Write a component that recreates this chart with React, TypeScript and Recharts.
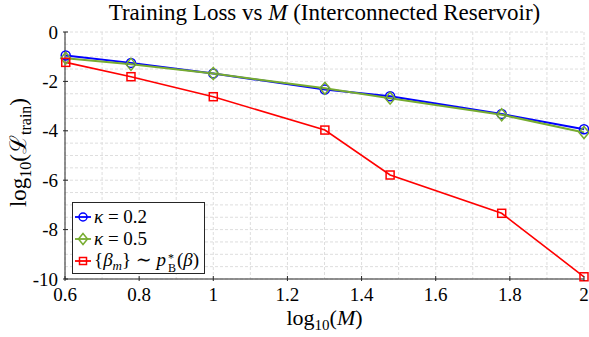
import React from "react";
import {
  LineChart, Line, XAxis, YAxis, CartesianGrid, Legend,
} from "recharts";

const logM = [0.602, 0.778, 1, 1.301, 1.477, 1.778, 2];
const kappa02 = [-0.95, -1.25, -1.68, -2.33, -2.6, -3.32, -3.94];
const kappa05 = [-1.06, -1.31, -1.68, -2.28, -2.68, -3.35, -4.07];
const betaPrior = [-1.23, -1.81, -2.62, -3.97, -5.79, -7.34, -9.91];

const xTicks = [0.6, 0.8, 1, 1.2, 1.4, 1.6, 1.8, 2];
const yTicks = [-10, -8, -6, -4, -2, 0];
const xGrid = [0.6, 0.7, 0.8, 0.9, 1, 1.1, 1.2, 1.3, 1.4, 1.5, 1.6, 1.7, 1.8, 1.9, 2];
const yGrid = [-10, -9.5, -9, -8.5, -8, -7.5, -7, -6.5, -6, -5.5, -5, -4.5, -4, -3.5, -3, -2.5, -2, -1.5, -1, -0.5, 0];
const seriesOrder = ["k02", "k05", "beta"];

const data = logM.map((x, i) => ({
  x,
  k02: kappa02[i],
  k05: kappa05[i],
  beta: betaPrior[i],
}));

const FONT = "'Liberation Serif', 'DejaVu Serif', serif";
const AXIS = "#262626";
const BLUE = "#0000ff";
const GREEN = "#77ac30";
const RED = "#ff0000";

const circleDot = (p: any) => (
  <circle key={`c${p.index}`} cx={p.cx} cy={p.cy} r={4.5} fill="none" stroke={BLUE} strokeWidth={1.5} />
);
const diamondDot = (p: any) => (
  <polygon
    key={`d${p.index}`}
    points={`${p.cx},${p.cy - 6} ${p.cx + 5},${p.cy} ${p.cx},${p.cy + 6} ${p.cx - 5},${p.cy}`}
    fill="none" stroke={GREEN} strokeWidth={1.5}
  />
);
const squareDot = (p: any) => (
  <rect key={`s${p.index}`} x={p.cx - 4} y={p.cy - 4} width={8} height={8} fill="none" stroke={RED} strokeWidth={1.5} />
);

const BottomTick = (p: any) => (
  <g>
    <line x1={p.x} x2={p.x} y1={p.y} y2={p.y - 5} stroke={AXIS} />
    <text x={p.x} y={p.y + 20} textAnchor="middle" fontFamily={FONT} fontSize={19} fill="#000">
      {p.payload.value}
    </text>
  </g>
);
const LeftTick = (p: any) => (
  <g>
    <line x1={p.x} x2={p.x + 5} y1={p.y} y2={p.y} stroke={AXIS} />
    <text x={p.x - 5} y={p.y + 6.5} textAnchor="end" fontFamily={FONT} fontSize={19} fill="#000">
      {p.payload.value}
    </text>
  </g>
);
const TopTick = (p: any) => <line x1={p.x} x2={p.x} y1={p.y} y2={p.y + 5} stroke={AXIS} />;
const RightTick = (p: any) => <line x1={p.x} x2={p.x - 5} y1={p.y} y2={p.y} stroke={AXIS} />;

const labels: Record<string, React.ReactNode> = {
  k02: <span><i>κ</i> = 0.2</span>,
  k05: <span><i>κ</i> = 0.5</span>,
  beta: (
    <span>
      {"{"}<i>β</i><i style={{ fontSize: 13, position: "relative", top: 4 }}>m</i>{"}"} ∼ <i>p</i>
      <span style={{ display: "inline-block", verticalAlign: "-6px", fontSize: 12, lineHeight: "10px", width: 9, marginLeft: 2 }}>
        <div style={{ height: 10 }}>*</div>
        <div style={{ height: 10 }}>B</div>
      </span>
      (<i>β</i>)
    </span>
  ),
};

const markerFor = (key: string, color: string) => {
  if (key === "k02") return <circle cx={8} cy={9} r={4} fill="none" stroke={color} strokeWidth={1.5} />;
  if (key === "k05") return <polygon points="8,3.5 12.5,9 8,14.5 3.5,9" fill="none" stroke={color} strokeWidth={1.5} />;
  return <rect x={4.5} y={5.5} width={7} height={7} fill="none" stroke={color} strokeWidth={1.5} />;
};

const LegendBox = (props: any) => (
  <div style={{ width: 129, border: "1px solid #262626", background: "#fff", padding: "3px 0 1px 2px", fontFamily: FONT, fontSize: 19, color: "#000" }}>
    {props.payload.map((e: any) => (
      <div key={e.dataKey} style={{ display: "flex", alignItems: "center", height: 22, whiteSpace: "nowrap", lineHeight: "22px" }}>
        <svg width={17} height={18} style={{ marginRight: 2, flex: "none" }}>
          <line x1={0} x2={16} y1={9} y2={9} stroke={e.color} strokeWidth={1.8} />
          {markerFor(e.dataKey, e.color)}
        </svg>
        {labels[e.dataKey]}
      </div>
    ))}
  </div>
);

const XLabel = (p: any) => {
  const vb = p.viewBox;
  return (
    <text x={vb.x + vb.width / 2} y={vb.y + 46} textAnchor="middle" fontFamily={FONT} fontSize={22} fill="#000">
      log<tspan dy={5} fontSize={15}>10</tspan><tspan dy={-5}>(</tspan><tspan fontStyle="italic">M</tspan>)
    </text>
  );
};

const YLabel = (p: any) => {
  const vb = p.viewBox;
  const cx = 26;
  const cy = vb.y + vb.height / 2 - 3;
  return (
    <text x={cx} y={cy} textAnchor="middle" transform={`rotate(-90, ${cx}, ${cy})`} fontFamily={FONT} fontSize={23} fill="#000">
      log<tspan dy={5} fontSize={16}>10</tspan><tspan dy={-5}>(ℒ</tspan><tspan dy={5} fontSize={16}>train</tspan><tspan dy={-5}>)</tspan>
    </text>
  );
};

export default function App() {
  return (
    <div style={{ position: "absolute", left: 0, top: 0, width: 589, height: 337, background: "#fff" }}>
      <div style={{ position: "absolute", left: 65, width: 519, top: 0, textAlign: "center", fontFamily: FONT, fontSize: 23, lineHeight: "26px", color: "#000", whiteSpace: "nowrap" }}>
        Training Loss vs <i>M</i> (Interconnected Reservoir)
      </div>
      <LineChart width={589} height={337} data={data} margin={{ top: 32, right: 5, bottom: 0, left: 0 }}>
        <CartesianGrid
          stroke="#dedede"
          strokeDasharray="3 2"
          verticalValues={xGrid}
          horizontalValues={yGrid}
        />
        <XAxis
          dataKey="x" type="number" domain={[0.6, 2]} ticks={xTicks}
          height={58} tickSize={0} tickLine={false} axisLine={{ stroke: AXIS }}
          tick={BottomTick} interval={0} label={<XLabel />}
        />
        <XAxis
          xAxisId="top" orientation="top" dataKey="x" type="number" domain={[0.6, 2]} ticks={xTicks}
          height={0} tickSize={0} tickLine={false} axisLine={{ stroke: AXIS }} tick={TopTick} interval={0}
        />
        <YAxis
          type="number" domain={[-10, 0]} ticks={yTicks} width={65}
          tickSize={0} tickLine={false} axisLine={{ stroke: AXIS }} tick={LeftTick} interval={0}
          label={<YLabel />}
        />
        <YAxis
          yAxisId="right" orientation="right" type="number" domain={[-10, 0]} ticks={yTicks} width={0}
          tickSize={0} tickLine={false} axisLine={{ stroke: AXIS }} tick={RightTick} interval={0}
        />
        <Legend
          content={<LegendBox />}
          itemSorter={(item: any) => seriesOrder.indexOf(item.dataKey)}
          wrapperStyle={{ position: "absolute", left: 72, top: 202, width: 0, height: 0, overflow: "visible" }}
        />
        <Line dataKey="k02" stroke={BLUE} strokeWidth={2} dot={circleDot} isAnimationActive={false} />
        <Line dataKey="k05" stroke={GREEN} strokeWidth={2} dot={diamondDot} isAnimationActive={false} />
        <Line dataKey="beta" stroke={RED} strokeWidth={1.6} dot={squareDot} isAnimationActive={false} />
      </LineChart>
    </div>
  );
}
